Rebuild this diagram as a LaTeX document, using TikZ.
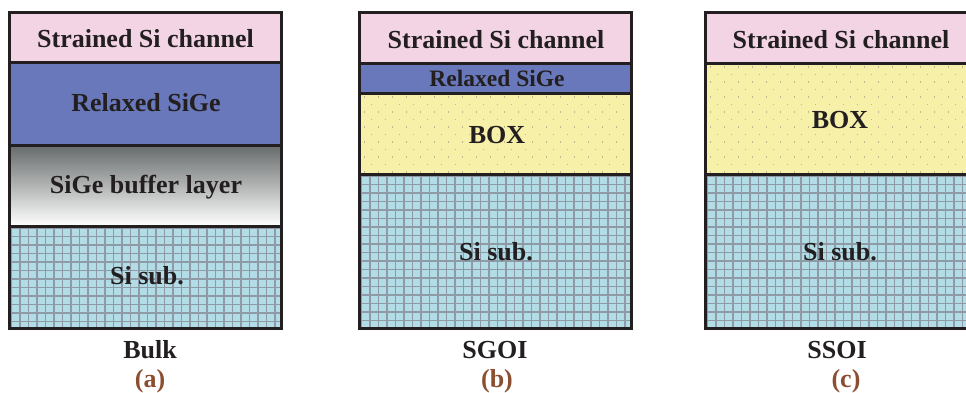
\documentclass[tikz,border=0pt]{standalone}
\usepackage{fontspec}
\setmainfont{Liberation Serif}
\definecolor{edgeC}{HTML}{231F20}
\definecolor{pinkL}{HTML}{F2D4E4}
\definecolor{blueL}{HTML}{6878BA}
\definecolor{yellowL}{HTML}{F6F0A8}
\definecolor{cyanL}{HTML}{B3DDE6}
\definecolor{gridL}{HTML}{8E9BA7}
\definecolor{dotL}{HTML}{C2B78E}
\definecolor{capL}{HTML}{8B4E30}
\definecolor{grayTop}{HTML}{666A6A}
\newcommand\gridarea[4]{%
  \begin{scope}
    \clip (#1,#2) rectangle (#3,#4);
    \fill[cyanL] (#1,#2) rectangle (#3,#4);
    \foreach \gi in {0,...,34}{\draw[gridL,line width=1.2pt] ({#1+2+\gi*8.5},#2) -- ({#1+2+\gi*8.5},#4);}
    \foreach \gi in {0,...,20}{\draw[gridL,line width=1.2pt] (#1,{#2+2+\gi*8.5}) -- (#3,{#2+2+\gi*8.5});}
  \end{scope}}
\newcommand\dotarea[4]{%
  \begin{scope}
    \clip (#1,#2) rectangle (#3,#4);
    \fill[yellowL] (#1,#2) rectangle (#3,#4);
    \foreach \dr in {0,...,15}{\foreach \dc in {0,...,20}{%
      \fill[dotL] ({#1+4+\dc*14+mod(\dr,2)*7},{#2+3+\dr*7.5}) rectangle ++(1.8,1.8);}}
  \end{scope}}
\begin{document}
\begin{tikzpicture}[x=1pt,y=-1pt,
  layer/.style={draw=edgeC,line width=3pt},
  lbl/.style={font=\bfseries\fontsize{26}{28}\selectfont,text=edgeC,inner sep=0pt},
  lblsm/.style={font=\bfseries\fontsize{23.5}{25}\selectfont,text=edgeC,inner sep=0pt},
  captxt/.style={font=\bfseries\fontsize{26}{28}\selectfont,text=capL,inner sep=0pt}]
\useasboundingbox (0,0) rectangle (966,392);
\clip (0,0) rectangle (966,392);
% ---------- panel (a)
\fill[pinkL] (9.5,12) rectangle (281,62);
\fill[blueL] (9.5,62) rectangle (281,145);
\shade[top color=grayTop,bottom color=white] (9.5,145) rectangle (281,226);
\gridarea{9.5}{226}{281}{328}
\draw[layer] (9.5,12) rectangle (281,62);
\draw[layer] (9.5,62) rectangle (281,145);
\draw[layer] (9.5,145) rectangle (281,226);
\draw[layer] (9.5,226) rectangle (281,328);
\node[lbl] (a1) at (145.5,39) {Strained Si channel};
\node[lbl] (a2) at (146,103) {Relaxed SiGe};
\node[lbl] (a3) at (146,187) {SiGe buffer layer};
\node[lbl] (a4) at (147,276) {Si sub.};
\node[lbl] (a5) at (150,350) {Bulk};
\node[captxt] (a6) at (150,381) {(a)};
% ---------- panel (b)
\fill[pinkL] (359.5,12) rectangle (631,63);
\fill[blueL] (359.5,63) rectangle (631,93);
\dotarea{359.5}{93}{631}{174}
\gridarea{359.5}{174}{631}{328}
\draw[layer] (359.5,12) rectangle (631,63);
\draw[layer] (359.5,63) rectangle (631,93);
\draw[layer] (359.5,93) rectangle (631,174);
\draw[layer] (359.5,174) rectangle (631,328);
\node[lbl] (b1) at (496,40) {Strained Si channel};
\node[lblsm] (b2) at (497,78) {Relaxed SiGe};
\node[lbl] (b3) at (497,135) {BOX};
\node[lbl] (b4) at (496,252) {Si sub.};
\node[lbl] (b5) at (495,350) {SGOI};
\node[captxt] (b6) at (497,381) {(b)};
% ---------- panel (c)
\fill[pinkL] (705.5,12) rectangle (977,63);
\dotarea{705.5}{63}{977}{174}
\gridarea{705.5}{174}{977}{328}
\draw[layer] (705.5,12) rectangle (977,63);
\draw[layer] (705.5,63) rectangle (977,174);
\draw[layer] (705.5,174) rectangle (977,328);
\node[lbl] (c1) at (841,40) {Strained Si channel};
\node[lbl] (c2) at (840,120) {BOX};
\node[lbl] (c3) at (840,252) {Si sub.};
\node[lbl] (c4) at (837,350) {SSOI};
\node[captxt] (c5) at (846,381) {(c)};
\end{tikzpicture}
\end{document}
